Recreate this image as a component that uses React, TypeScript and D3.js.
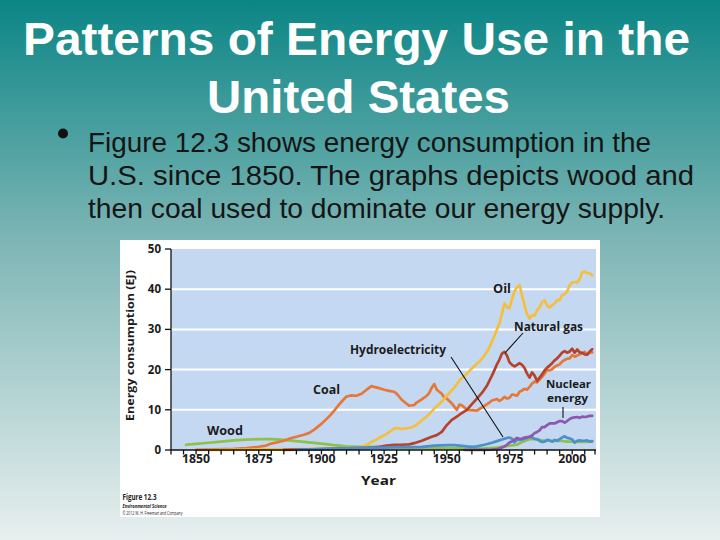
import React from "react";
import * as d3 from "d3";

const titleLines = ["Patterns of Energy Use in the", "United States"];
const bulletLines = [
  "Figure 12.3 shows energy consumption in the",
  "U.S. since 1850. The graphs depicts wood and",
  "then coal used to dominate our energy supply.",
];

const yearTicks = [1850, 1875, 1900, 1925, 1950, 1975, 2000];
const valueTicks = [0, 10, 20, 30, 40, 50];

const woodData: [number, number][] = [
  [1846, 1.3], [1850, 1.5], [1855, 1.8], [1860, 2.1], [1865, 2.4], [1870, 2.6], [1875, 2.7],
  [1880, 2.7], [1885, 2.5], [1890, 2.2], [1895, 1.9], [1900, 1.6], [1905, 1.2], [1910, 0.9],
  [1915, 0.8], [1920, 0.8], [1925, 0.7], [1930, 0.6], [1935, 0.6], [1940, 0.6], [1945, 0.5],
  [1950, 0.5], [1955, 0.4], [1960, 0.3], [1965, 0.4], [1970, 0.6], [1975, 1.1], [1978, 1.3],
  [1980, 2.0], [1983, 2.7], [1985, 2.7], [1988, 2.4], [1990, 2.3], [1992, 2.2], [1995, 2.3],
  [1998, 2.1], [2000, 2.1], [2003, 2.0], [2005, 2.0], [2008, 2.1],
];

const coalData: [number, number][] = [
  [1850, 0.05], [1855, 0.1], [1860, 0.2], [1865, 0.3], [1870, 0.5], [1875, 0.8], [1878, 1.1],
  [1880, 1.6], [1883, 2.0], [1885, 2.3], [1888, 3.0], [1890, 3.3], [1893, 3.8], [1895, 4.2],
  [1897, 5.0], [1900, 6.5], [1903, 8.3], [1905, 9.7], [1907, 11.3], [1908, 12.0], [1910, 13.3],
  [1912, 13.6], [1914, 13.5], [1916, 14.0], [1918, 15.0], [1920, 15.9], [1921, 15.7], [1923, 15.4],
  [1925, 15.0], [1927, 14.7], [1929, 14.5], [1930, 14.0], [1932, 12.5], [1934, 11.5], [1935, 11.0],
  [1937, 11.2], [1938, 11.8], [1940, 12.6], [1942, 13.5], [1943, 14.2], [1944, 15.5], [1945, 16.4],
  [1946, 15.0], [1947, 14.5], [1948, 14.0], [1949, 13.0], [1950, 12.8], [1951, 12.2], [1952, 11.6],
  [1953, 10.8], [1954, 10.0], [1955, 11.3], [1956, 11.1], [1957, 10.6], [1958, 10.0], [1960, 9.9],
  [1962, 9.8], [1963, 10.2], [1965, 11.0], [1967, 11.8], [1968, 12.3], [1970, 12.7], [1971, 12.2],
  [1972, 12.6], [1973, 13.2], [1974, 12.8], [1975, 13.0], [1976, 13.8], [1977, 13.7], [1978, 13.5],
  [1979, 14.5], [1980, 14.8], [1981, 15.2], [1982, 15.0], [1983, 15.7], [1984, 16.5], [1985, 17.0],
  [1986, 16.8], [1987, 17.5], [1988, 18.2], [1989, 19.0], [1990, 19.9], [1991, 19.8], [1992, 20.1],
  [1993, 20.7], [1994, 21.0], [1995, 21.3], [1996, 22.0], [1997, 22.4], [1998, 22.7], [1999, 22.8],
  [2000, 23.6], [2001, 23.2], [2002, 23.5], [2003, 23.8], [2004, 24.0], [2005, 24.4], [2006, 23.8],
  [2007, 24.2], [2008, 24.3],
];

const oilData: [number, number][] = [
  [1855, 0], [1860, 0.05], [1870, 0.1], [1880, 0.15], [1890, 0.2], [1900, 0.3], [1905, 0.35],
  [1910, 0.4], [1915, 0.6], [1918, 1.2], [1920, 2.0], [1923, 3.0], [1926, 4.0], [1929, 5.3],
  [1930, 5.5], [1932, 5.2], [1934, 5.4], [1936, 5.6], [1938, 6.3], [1940, 7.4], [1942, 8.3],
  [1945, 10.3], [1948, 12.0], [1950, 13.5], [1953, 15.5], [1955, 17.3], [1958, 19.0], [1960, 20.3],
  [1963, 22.0], [1965, 23.5], [1967, 25.5], [1969, 28.5], [1971, 31.5], [1973, 36.5], [1974, 35.5],
  [1975, 35.3], [1976, 37.5], [1977, 39.5], [1978, 40.5], [1979, 41.0], [1980, 38.5], [1981, 36.0],
  [1982, 33.8], [1983, 32.7], [1984, 33.5], [1985, 33.5], [1986, 34.8], [1987, 35.5], [1988, 36.8],
  [1989, 37.2], [1990, 36.0], [1991, 35.4], [1992, 36.0], [1993, 36.5], [1994, 37.3], [1995, 37.3],
  [1996, 38.5], [1997, 38.8], [1998, 39.5], [1999, 41.0], [2000, 41.7], [2001, 41.8], [2002, 41.7],
  [2003, 42.5], [2004, 44.2], [2005, 44.4], [2006, 44.0], [2007, 44.0], [2008, 43.4],
];

const gasData: [number, number][] = [
  [1885, 0.05], [1900, 0.2], [1910, 0.4], [1920, 0.6], [1923, 0.8], [1926, 1.1], [1929, 1.3],
  [1932, 1.3], [1935, 1.4], [1937, 1.7], [1940, 2.3], [1942, 2.8], [1944, 3.3], [1946, 3.7],
  [1948, 4.5], [1950, 6.2], [1952, 7.5], [1954, 8.3], [1956, 9.2], [1958, 10.0], [1960, 11.4],
  [1962, 12.8], [1964, 14.2], [1966, 16.0], [1968, 18.5], [1970, 21.3], [1971, 22.5], [1972, 24.0],
  [1973, 24.4], [1974, 23.5], [1975, 21.8], [1976, 21.2], [1977, 20.8], [1978, 21.2], [1979, 21.6],
  [1980, 21.2], [1981, 20.4], [1982, 19.0], [1983, 18.0], [1984, 19.3], [1985, 18.5], [1986, 17.2],
  [1987, 18.0], [1988, 18.8], [1989, 19.8], [1990, 20.5], [1991, 21.0], [1992, 21.6], [1993, 22.3],
  [1994, 22.8], [1995, 23.5], [1996, 24.2], [1997, 24.6], [1998, 24.2], [1999, 24.5], [2000, 25.2],
  [2001, 24.2], [2002, 25.0], [2003, 24.3], [2004, 24.2], [2005, 23.8], [2006, 23.7], [2007, 24.5],
  [2008, 25.1],
];

const hydroData: [number, number][] = [
  [1890, 0.05], [1900, 0.2], [1910, 0.4], [1920, 0.6], [1925, 0.6], [1930, 0.7], [1935, 0.7],
  [1940, 0.8], [1945, 1.1], [1950, 1.2], [1953, 1.2], [1955, 1.1], [1958, 0.9], [1960, 0.8],
  [1962, 0.9], [1965, 1.3], [1968, 1.8], [1970, 2.2], [1972, 2.6], [1974, 3.0], [1975, 3.1],
  [1976, 2.8], [1977, 1.9], [1978, 2.5], [1979, 2.5], [1980, 2.6], [1982, 3.0], [1983, 3.3],
  [1984, 3.1], [1985, 2.8], [1986, 2.7], [1987, 2.3], [1988, 2.0], [1989, 2.1], [1990, 2.5],
  [1991, 2.4], [1992, 2.1], [1993, 2.5], [1994, 2.3], [1995, 2.7], [1996, 3.1], [1997, 3.4],
  [1998, 3.0], [1999, 2.9], [2000, 2.6], [2001, 1.8], [2002, 2.3], [2003, 2.4], [2004, 2.3],
  [2005, 2.3], [2006, 2.4], [2007, 2.1], [2008, 2.2],
];

const nuclearData: [number, number][] = [
  [1957, 0], [1965, 0.05], [1968, 0.1], [1970, 0.2], [1972, 0.6], [1973, 0.9], [1974, 1.3],
  [1975, 1.9], [1976, 2.1], [1977, 2.6], [1978, 3.0], [1979, 2.8], [1980, 2.8], [1981, 3.1],
  [1982, 3.2], [1983, 3.3], [1984, 3.6], [1985, 4.2], [1986, 4.5], [1987, 4.9], [1988, 5.7],
  [1989, 5.7], [1990, 6.2], [1991, 6.6], [1992, 6.6], [1993, 6.6], [1994, 6.9], [1995, 7.2],
  [1996, 7.2], [1997, 6.8], [1998, 7.2], [1999, 7.7], [2000, 8.0], [2001, 8.1], [2002, 8.2],
  [2003, 8.0], [2004, 8.3], [2005, 8.2], [2006, 8.3], [2007, 8.5], [2008, 8.5],
];

const series = [
  { name: "Wood", data: woodData, color: "#8cc14a" },
  { name: "Coal", data: coalData, color: "#e57838" },
  { name: "Oil", data: oilData, color: "#f3bf3c" },
  { name: "Natural gas", data: gasData, color: "#b5432c" },
  { name: "Hydroelectricity", data: hydroData, color: "#4c8fcb" },
  { name: "Nuclear energy", data: nuclearData, color: "#8f57ad" },
];

const W = 720;
const H = 540;
const plot = { left: 171, right: 596, top: 249, bottom: 450 };

export default function App() {
  const x = d3.scaleLinear().domain([1840, 2009.5]).range([plot.left, plot.right]);
  const y = d3.scaleLinear().domain([0, 50]).range([plot.bottom, plot.top]);
  const line = d3
    .line<[number, number]>()
    .x((d) => x(d[0]))
    .y((d) => y(d[1]))
    .curve(d3.curveLinear);

  const minorTicks = d3.range(1840, 2006, 5);
  const labelFont = "'Open Sans', 'DejaVu Sans', sans-serif";
  const ink = "#1b1b1b";

  return (
    <svg
      width={W}
      height={H}
      viewBox={`0 0 ${W} ${H}`}
      style={{ position: "absolute", left: 0, top: 0, display: "block" }}
    >
      <defs>
        <linearGradient id="bg" x1="0" y1="0" x2="0" y2="1">
          <stop offset="0" stopColor="#0b8585" />
          <stop offset="0.45" stopColor="#7fb6b6" />
          <stop offset="1" stopColor="#e8efef" />
        </linearGradient>
      </defs>
      <rect x={0} y={0} width={W} height={H} fill="url(#bg)" />

      {/* Title */}
      <g fontFamily="'Liberation Sans', Arial, sans-serif" fontWeight="bold" fill="#ffffff" fontSize={47}>
        <text x={23} y={55} textLength={667} lengthAdjust="spacingAndGlyphs">{titleLines[0]}</text>
        <text x={207} y={113} textLength={303} lengthAdjust="spacingAndGlyphs">{titleLines[1]}</text>
      </g>

      {/* Bullet */}
      <circle cx={63} cy={133.5} r={5} fill="#111" />
      <g fontFamily="'Liberation Sans', Arial, sans-serif" fill="#151515" fontSize={28}>
        <text x={88} y={151.5} textLength={563} lengthAdjust="spacingAndGlyphs">{bulletLines[0]}</text>
        <text x={88} y={184.5} textLength={606} lengthAdjust="spacingAndGlyphs">{bulletLines[1]}</text>
        <text x={88} y={217.5} textLength={577} lengthAdjust="spacingAndGlyphs">{bulletLines[2]}</text>
      </g>

      {/* Figure panel */}
      <rect x={120} y={240} width={480} height={277} fill="#ffffff" />
      <rect
        x={plot.left}
        y={plot.top}
        width={plot.right - plot.left}
        height={plot.bottom - plot.top}
        fill="#c4d9f1"
      />
      {valueTicks
        .filter((v) => v > 0 && v < 50)
        .map((v) => (
          <line key={v} x1={plot.left} x2={plot.right} y1={y(v)} y2={y(v)} stroke="#ffffff" strokeWidth={2} />
        ))}

      {/* Series */}
      <g fill="none" strokeWidth={2.7} strokeLinejoin="round" strokeLinecap="round">
        {series.map((s) => (
          <path key={s.name} d={line(s.data) || ""} stroke={s.color} />
        ))}
      </g>

      {/* Axes */}
      <line x1={plot.left} x2={plot.left} y1={plot.top} y2={plot.bottom} stroke="#111" strokeWidth={1.3} />
      <line x1={plot.left} x2={plot.right} y1={plot.bottom} y2={plot.bottom} stroke="#111" strokeWidth={1.5} />
      {valueTicks.map((v) => (
        <g key={v}>
          <line x1={plot.left - 6} x2={plot.left} y1={y(v)} y2={y(v)} stroke="#111" strokeWidth={1.3} />
          <text
            x={161}
            y={y(v)}
            dy="0.35em"
            textAnchor="end"
            fontFamily={labelFont}
            fontWeight="bold"
            fontSize={11.5}
            fill={ink}
          >
            {v}
          </text>
        </g>
      ))}
      {minorTicks.map((t) => (
        <line key={t} x1={x(t)} x2={x(t)} y1={plot.bottom} y2={plot.bottom + 4.5} stroke="#111" strokeWidth={1.3} />
      ))}
      <line x1={plot.right - 1} x2={plot.right - 1} y1={plot.bottom} y2={plot.bottom + 4.5} stroke="#111" strokeWidth={1.3} />
      {yearTicks.map((t) => (
        <text
          key={t}
          x={x(t)}
          y={463}
          textAnchor="middle"
          fontFamily={labelFont}
          fontWeight="bold"
          fontSize={11.5}
          fill={ink}
          textLength={28}
          lengthAdjust="spacingAndGlyphs"
        >
          {t}
        </text>
      ))}
      <text
        x={378.5}
        y={484.5}
        textAnchor="middle"
        fontFamily={labelFont}
        fontWeight="bold"
        fontSize={13}
        fill={ink}
        textLength={35}
        lengthAdjust="spacingAndGlyphs"
      >
        Year
      </text>
      <text
        transform="translate(134,345.5) rotate(-90)"
        textAnchor="middle"
        fontFamily={labelFont}
        fontWeight="bold"
        fontSize={11}
        fill={ink}
        textLength={151}
        lengthAdjust="spacingAndGlyphs"
      >
        Energy consumption (EJ)
      </text>

      {/* Annotations */}
      <g fontFamily={labelFont} fontWeight="bold" fontSize={12} fill={ink}>
        <text x={493} y={293} textLength={18} lengthAdjust="spacingAndGlyphs">Oil</text>
        <text x={514} y={331} textLength={69} lengthAdjust="spacingAndGlyphs">Natural gas</text>
        <text x={350} y={354} textLength={96} lengthAdjust="spacingAndGlyphs">Hydroelectricity</text>
        <text x={313} y={394} textLength={27} lengthAdjust="spacingAndGlyphs">Coal</text>
        <text x={207} y={435} textLength={36} lengthAdjust="spacingAndGlyphs">Wood</text>
      </g>
      <g fontFamily={labelFont} fontWeight="bold" fontSize={10.5} fill={ink}>
        <text x={546} y={387.5} textLength={45} lengthAdjust="spacingAndGlyphs">Nuclear</text>
        <text x={547} y={401.5} textLength={41} lengthAdjust="spacingAndGlyphs">energy</text>
      </g>
      <g stroke="#111" strokeWidth={1.1}>
        <line x1={523} y1={333} x2={505} y2={353} />
        <line x1={451} y1={357} x2={503} y2={437} />
        <line x1={563} y1={407} x2={563} y2={418} />
      </g>

      {/* Credits */}
      <g fontFamily={labelFont} fill="#222">
        <text x={122.5} y={500} fontSize={8} fontWeight="bold" textLength={34} lengthAdjust="spacingAndGlyphs">Figure 12.3</text>
        <text x={122.5} y={507.5} fontSize={5.5} fontWeight="bold" fontStyle="italic" textLength={44} lengthAdjust="spacingAndGlyphs">Environmental Science</text>
        <text x={122.5} y={514.5} fontSize={5.5} textLength={60} lengthAdjust="spacingAndGlyphs">© 2012 W. H. Freeman and Company</text>
      </g>
    </svg>
  );
}
